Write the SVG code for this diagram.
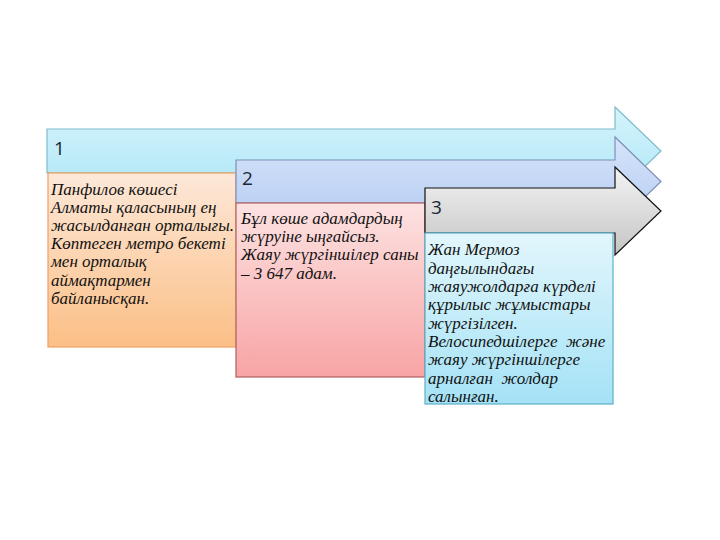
<svg xmlns="http://www.w3.org/2000/svg" width="720" height="540" viewBox="0 0 720 540">
<defs>
<linearGradient id="gA1" x1="0" y1="0" x2="0" y2="1"><stop offset="0" stop-color="#d4f4fc"/><stop offset="1" stop-color="#aee6f6"/></linearGradient>
<linearGradient id="gA2" x1="0" y1="0" x2="0" y2="1"><stop offset="0" stop-color="#d6e4fa"/><stop offset="1" stop-color="#b4cbf2"/></linearGradient>
<linearGradient id="gA3" x1="0" y1="0" x2="0" y2="1"><stop offset="0" stop-color="#f4f4f4"/><stop offset="1" stop-color="#c4c4c4"/></linearGradient>
<linearGradient id="gB1" x1="0" y1="0" x2="0" y2="1"><stop offset="0" stop-color="#fde8d8"/><stop offset="1" stop-color="#fbbf86"/></linearGradient>
<linearGradient id="gB2" x1="0" y1="0" x2="0" y2="1"><stop offset="0" stop-color="#fde2e2"/><stop offset="1" stop-color="#f8a4a4"/></linearGradient>
<linearGradient id="gB3" x1="0" y1="0" x2="0" y2="1"><stop offset="0" stop-color="#e2f6fc"/><stop offset="1" stop-color="#a4e2f6"/></linearGradient>
</defs>
<style>
.num{font-family:"Open Sans","Liberation Sans",sans-serif;font-size:19px;fill:#1c2433}
.txt{font-family:"Liberation Serif","DejaVu Serif",serif;font-style:italic;font-size:17px;fill:#111}
</style>
<rect width="720" height="540" fill="#ffffff"/>
<g id="arrow1">
<path d="M47,129 H615 V107 L661,151 L615,195 V173 H47 Z" fill="url(#gA1)" stroke="#7fbccc" stroke-width="1.2"/>
<text class="num" x="54" y="155">1</text>
</g>
<g id="box1">
<rect x="48" y="173" width="188" height="174" fill="url(#gB1)" stroke="#eea060" stroke-width="1.2"/>
<text class="txt" x="51" y="195">Панфилов көшесі</text>
<text class="txt" x="51" y="213">Алматы қаласының ең</text>
<text class="txt" x="51" y="231">жасылданған орталығы.</text>
<text class="txt" x="51" y="249">Көптеген метро бекеті</text>
<text class="txt" x="51" y="267">мен орталық</text>
<text class="txt" x="51" y="286">аймақтармен</text>
<text class="txt" x="51" y="304">байланысқан.</text>
</g>
<g id="arrow2">
<path d="M236,160 H615 V137 L661,181.5 L615,226 V203 H236 Z" fill="url(#gA2)" stroke="#7f8fb8" stroke-width="1.2"/>
<text class="num" x="242" y="185">2</text>
</g>
<g id="box2">
<rect x="236" y="203" width="189" height="174" fill="url(#gB2)" stroke="#b06060" stroke-width="1.2"/>
<text class="txt" x="241" y="224">Бұл көше адамдардың</text>
<text class="txt" x="241" y="242">жүруіне ыңғайсыз.</text>
<text class="txt" x="241" y="260">Жаяу жүргіншілер саны</text>
<text class="txt" x="241" y="279">– 3 647 адам.</text>
</g>
<g id="arrow3">
<path d="M425,188 H615 V167 L661,211 L615,255 V233 H425 Z" fill="url(#gA3)" stroke="#111" stroke-width="1.2"/>
<text class="num" x="431" y="214">3</text>
</g>
<g id="box3">
<rect x="425" y="233" width="188" height="171" fill="url(#gB3)" stroke="#5eb0c8" stroke-width="1.2"/>
<text class="txt" x="428" y="255">Жан Мермоз</text>
<text class="txt" x="428" y="274">даңғылындағы</text>
<text class="txt" x="428" y="292">жаяужолдарға күрделі</text>
<text class="txt" x="428" y="310">құрылыс жұмыстары</text>
<text class="txt" x="428" y="329">жүргізілген.</text>
<text class="txt" x="428" y="347" xml:space="preserve">Велосипедшілерге  және</text>
<text class="txt" x="428" y="365">жаяу жүргіншілерге</text>
<text class="txt" x="428" y="384" xml:space="preserve">арналған  жолдар</text>
<text class="txt" x="428" y="402">салынған.</text>
</g>
<g id="connectors"/>
</svg>
